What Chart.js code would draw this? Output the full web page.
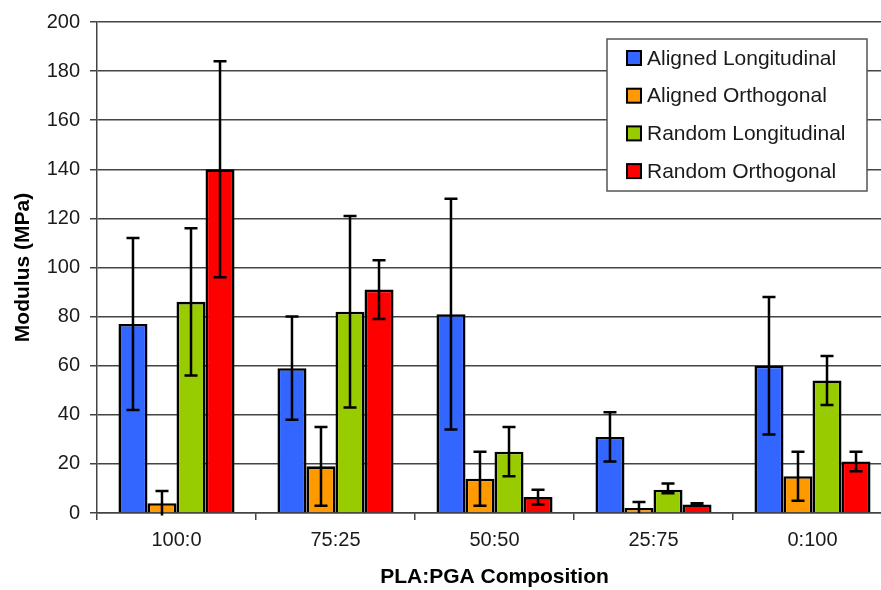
<!DOCTYPE html>
<html>
<head>
<meta charset="utf-8">
<script src="https://cdn.jsdelivr.net/npm/chart.js@4/dist/chart.umd.min.js"></script>
<style>
  html, body { margin: 0; padding: 0; background: #fff; overflow: hidden; }
</style>
</head>
<body>
<canvas id="chartModulus" width="893" height="590" style="width:893px;height:590px"></canvas>
<script>
// PLA:PGA composition groups
var categories = ['100:0', '75:25', '50:50', '25:75', '0:100'];
var seriesNames = ['Aligned Longitudinal', 'Aligned Orthogonal', 'Random Longitudinal', 'Random Orthogonal'];
var seriesColors = ['#3366ff', '#ff9900', '#99cc00', '#ff0000'];

// mean modulus (MPa)
var alignedLong = [77, 59, 81, 31, 60];
var alignedOrth = [4, 19, 14, 2, 15];
var randomLong = [86, 82, 25, 9.5, 54];
var randomOrth = [140, 91, 6.5, 3.5, 21];

// error bar ends (low / high)
var alignedLongLow = [42, 38, 34, 21, 32];
var alignedLongHigh = [112, 80, 128, 41, 88];
var alignedOrthLow = [-1, 3, 3, 0, 5];
var alignedOrthHigh = [9, 35, 25, 4.5, 25];
var randomLongLow = [56, 43, 15, 8, 44];
var randomLongHigh = [116, 121, 35, 12, 64];
var randomOrthLow = [96, 79, 3.5, 3, 17];
var randomOrthHigh = [184, 103, 9.5, 4, 25];

var yTicks = [0, 20, 40, 60, 80, 100, 120, 140, 160, 180, 200];

var values = [alignedLong, alignedOrth, randomLong, randomOrth];
var lows = [alignedLongLow, alignedOrthLow, randomLongLow, randomOrthLow];
var highs = [alignedLongHigh, alignedOrthHigh, randomLongHigh, randomOrthHigh];

var datasets = [];
for (var i = 0; i < seriesNames.length; i++) {
    datasets.push({
        label: seriesNames[i],
        data: values[i],
        errLow: lows[i],
        errHigh: highs[i],
        backgroundColor: seriesColors[i],
        borderColor: '#000',
        borderWidth: 2.6,
        borderSkipped: 'start',
        categoryPercentage: 0.73,
        barPercentage: 1.0
    });
}

var errorBars = {
    id: 'errorBars',
    afterDatasetsDraw: function(chart) {
        var ctx = chart.ctx;
        var yScale = chart.scales.y;
        ctx.save();
        ctx.strokeStyle = '#000';
        ctx.lineWidth = 2.5;
        chart.data.datasets.forEach(function(ds, di) {
            var meta = chart.getDatasetMeta(di);
            meta.data.forEach(function(bar, j) {
                var x = bar.x;
                var yLo = yScale.getPixelForValue(ds.errLow[j]);
                var yHi = yScale.getPixelForValue(ds.errHigh[j]);
                ctx.beginPath();
                ctx.moveTo(x, yLo);
                ctx.lineTo(x, yHi);
                ctx.moveTo(x - 6.5, yHi);
                ctx.lineTo(x + 6.5, yHi);
                if (ds.errLow[j] > 0) {
                    ctx.moveTo(x - 6.5, yLo);
                    ctx.lineTo(x + 6.5, yLo);
                }
                ctx.stroke();
            });
        });
        ctx.restore();
    }
};

var boxLegend = {
    id: 'boxLegend',
    afterDraw: function(chart) {
        var ctx = chart.ctx;
        var area = chart.chartArea;
        var left = area.left + 510, top = area.top + 17;
        var w = 260, h = 152;
        ctx.save();
        ctx.fillStyle = '#fff';
        ctx.fillRect(left, top, w, h);
        ctx.strokeStyle = '#555';
        ctx.lineWidth = 1.5;
        ctx.strokeRect(left, top, w, h);
        ctx.font = '21px "Liberation Sans", Arial, sans-serif';
        ctx.textBaseline = 'middle';
        chart.data.datasets.forEach(function(ds, i) {
            var cy = top + 19 + i * 37.7;
            ctx.fillStyle = ds.backgroundColor;
            ctx.fillRect(left + 20, cy - 7, 14, 14);
            ctx.strokeStyle = '#000';
            ctx.lineWidth = 2;
            ctx.strokeRect(left + 20, cy - 7, 14, 14);
            ctx.fillStyle = '#1a1a1a';
            ctx.fillText(ds.label, left + 40, cy + 1);
        });
        ctx.restore();
    }
};

new Chart(document.getElementById('chartModulus'), {
    type: 'bar',
    data: {
        labels: categories,
        datasets: datasets
    },
    options: {
        responsive: false,
        animation: false,
        layout: { padding: { top: 22, right: 1, bottom: 0, left: 0 } },
        plugins: {
            legend: { display: false },
            tooltip: { enabled: false }
        },
        scales: {
            x: {
                offset: true,
                grid: {
                    offset: true,
                    drawOnChartArea: false,
                    drawTicks: true,
                    tickLength: 7,
                    color: '#444',
                    lineWidth: 1.5
                },
                border: { display: true, color: '#444', width: 1.5 },
                ticks: {
                    color: '#1a1a1a',
                    padding: 8,
                    font: { family: '"Liberation Sans", Arial, sans-serif', size: 20 }
                },
                title: {
                    display: true,
                    text: 'PLA:PGA Composition',
                    color: '#000',
                    padding: { top: 0, bottom: 0 },
                    font: { family: '"Liberation Sans", Arial, sans-serif', size: 21, weight: 'bold' }
                },
                afterFit: function(scale) { scale.height = 77; }
            },
            y: {
                min: 0,
                max: 200,
                afterBuildTicks: function(scale) {
                    scale.ticks = yTicks.map(function(v) { return { value: v }; });
                },
                grid: {
                    color: '#444',
                    lineWidth: 1.5,
                    tickLength: 7
                },
                border: { display: true, color: '#444', width: 1.5 },
                ticks: {
                    color: '#1a1a1a',
                    padding: 10,
                    font: { family: '"Liberation Sans", Arial, sans-serif', size: 20 }
                },
                title: {
                    display: true,
                    text: 'Modulus (MPa)',
                    color: '#000',
                    padding: { top: 11, bottom: 0 },
                    font: { family: '"Liberation Sans", Arial, sans-serif', size: 21, weight: 'bold' }
                },
                afterFit: function(scale) { scale.width = 97; }
            }
        }
    },
    plugins: [errorBars, boxLegend]
});
</script>
</body>
</html>
